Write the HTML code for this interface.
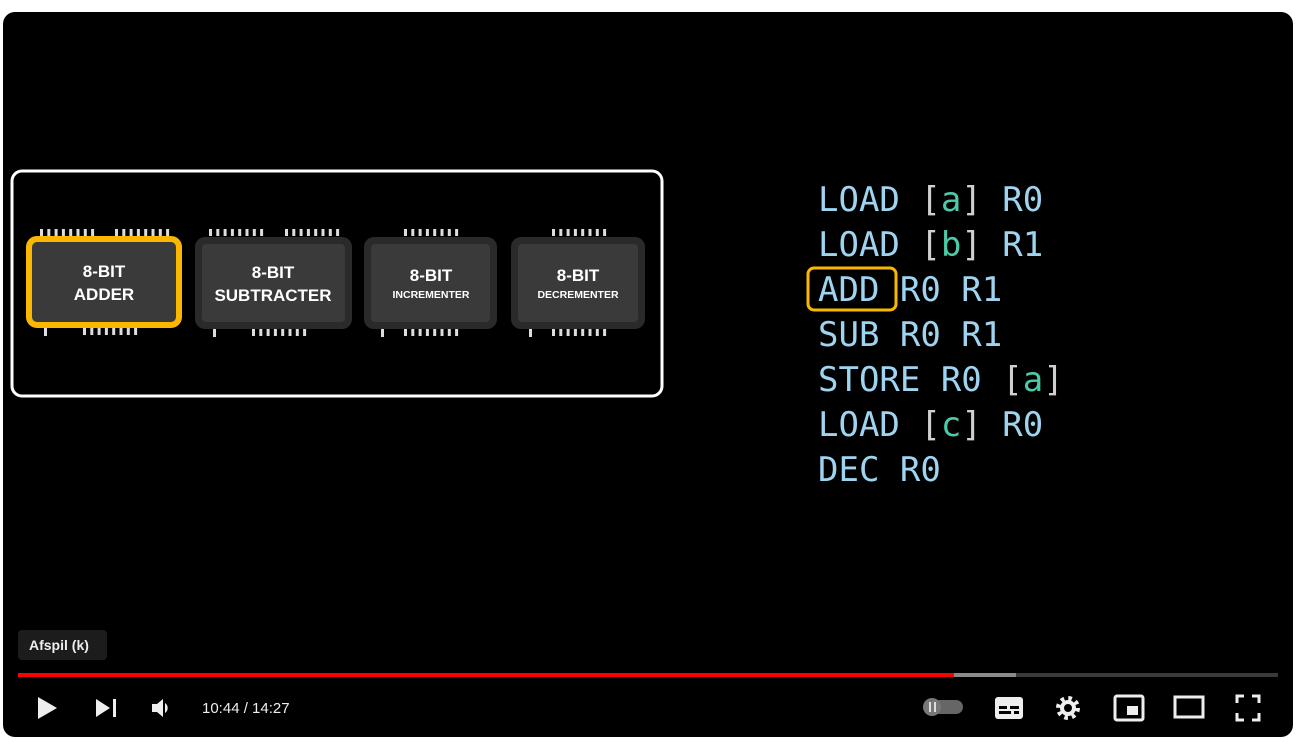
<!DOCTYPE html>
<html><head><style>
body{margin:0;width:1300px;height:744px;background:#fff;overflow:hidden;font-family:"Liberation Sans",sans-serif}
.code{position:absolute;left:818px;top:178px;font-family:"DejaVu Sans Mono","Liberation Mono",monospace;font-size:34px;line-height:45px;color:#9fd4f0;white-space:pre}
.g{color:#4ec9a8}.b{color:#cfcfcf}
</style></head><body>
<svg width="1300" height="744" style="position:absolute;left:0;top:0">
<defs>
<g id="pt" fill="#ddd">
<rect x="0" y="0" width="3" height="7"/><rect x="7.3" y="0" width="3" height="7"/><rect x="14.6" y="0" width="3" height="7"/><rect x="21.9" y="0" width="3" height="7"/><rect x="29.2" y="0" width="3" height="7"/><rect x="36.5" y="0" width="3" height="7"/><rect x="43.8" y="0" width="3" height="7"/><rect x="51.1" y="0" width="3" height="7"/>
</g>
</defs>
<rect x="3" y="12" width="1290" height="725" rx="12" fill="#000"/>
<rect x="12" y="171" width="650" height="225" rx="10" fill="none" stroke="#fff" stroke-width="3"/>
<use href="#pt" x="40" y="229"/><use href="#pt" x="115" y="229"/>
<use href="#pt" x="83" y="328"/><rect x="44" y="328" width="3" height="8" fill="#ddd"/>
<use href="#pt" x="209" y="229"/><use href="#pt" x="285" y="229"/>
<use href="#pt" x="252" y="329"/><rect x="213" y="329" width="3" height="8" fill="#ddd"/>
<use href="#pt" x="404" y="229"/>
<use href="#pt" x="404" y="329"/><rect x="381" y="329" width="3" height="8" fill="#ddd"/>
<use href="#pt" x="552" y="229"/>
<use href="#pt" x="552" y="329"/><rect x="529" y="329" width="3" height="8" fill="#ddd"/>
<rect x="29" y="239" width="150" height="86" rx="8" fill="#3a3a3a" stroke="#fbb700" stroke-width="6"/>
<rect x="195" y="237" width="157" height="92" rx="10" fill="#2a2a2a"/><rect x="202" y="244" width="143" height="78" rx="4" fill="#3a3a3a"/>
<rect x="364" y="237" width="133" height="92" rx="10" fill="#2a2a2a"/><rect x="371" y="244" width="119" height="78" rx="4" fill="#3a3a3a"/>
<rect x="511" y="237" width="134" height="92" rx="10" fill="#2a2a2a"/><rect x="518" y="244" width="120" height="78" rx="4" fill="#3a3a3a"/>
<g fill="#fff" font-weight="bold" text-anchor="middle" font-family="Liberation Sans,sans-serif">
<text x="104" y="277" font-size="17">8-BIT</text><text x="104" y="300" font-size="17">ADDER</text>
<text x="273" y="278" font-size="17">8-BIT</text><text x="273" y="301" font-size="17">SUBTRACTER</text>
<text x="431" y="281" font-size="17">8-BIT</text><text x="431" y="298" font-size="10.5">INCREMENTER</text>
<text x="578" y="281" font-size="17">8-BIT</text><text x="578" y="298" font-size="10.5">DECREMENTER</text>
</g>
<rect x="808" y="268" width="88" height="42" rx="6" fill="none" stroke="#fbb700" stroke-width="3"/>
<rect x="18" y="630" width="89" height="30" rx="4" fill="#1c1c1c"/>
<text x="29" y="650" fill="#eee" font-size="14" font-weight="bold">Afspil (k)</text>
<rect x="18" y="673" width="1260" height="4" fill="#3a3a3a"/>
<rect x="18" y="673" width="998" height="4" fill="#8a8a8a"/>
<rect x="18" y="673" width="936" height="4" fill="#f00"/>
<g fill="#eee">
<path d="M38 697 L57 708 L38 719Z"/>
<path d="M96 699 L110 708 L96 717Z"/><rect x="113" y="699" width="3" height="18"/>
<path d="M152 704 h5 l6 -5 v18 l-6 -5 h-5z"/><path d="M165 703 a6 6 0 0 1 0 10z"/>
</g>
<text x="202" y="713" fill="#eee" font-size="15">10:44 / 14:27</text>
<rect x="924" y="700" width="39" height="14" rx="7" fill="#666"/>
<circle cx="932" cy="707" r="9" fill="#777"/><rect x="929" y="702" width="2" height="10" fill="#ddd"/><rect x="934" y="702" width="2" height="10" fill="#ddd"/>
<rect x="995" y="697" width="28" height="22" rx="3" fill="#eee"/>
<rect x="999" y="706" width="8" height="3" fill="#000"/><rect x="1010" y="706" width="9" height="3" fill="#000"/><rect x="999" y="711" width="12" height="3" fill="#000"/><rect x="1014" y="711" width="5" height="3" fill="#000"/>
<circle cx="1068" cy="708" r="9.5" fill="none" stroke="#eee" stroke-width="5" stroke-dasharray="3.5 3.96"/><circle cx="1068" cy="708" r="6" fill="none" stroke="#eee" stroke-width="4"/>
<rect x="1115" y="696" width="28" height="24" rx="2" fill="none" stroke="#eee" stroke-width="3"/><rect x="1127" y="706" width="11" height="9" fill="#eee"/>
<rect x="1175" y="697" width="28" height="20" fill="none" stroke="#eee" stroke-width="3"/>
<g fill="none" stroke="#eee" stroke-width="3"><path d="M1237 703v-7h7M1252 696h7v7M1259 713v7h-7M1244 720h-7v-7"/></g>
</svg>
<div class="code">LOAD <span class="b">[</span><span class="g">a</span><span class="b">]</span> R0
LOAD <span class="b">[</span><span class="g">b</span><span class="b">]</span> R1
ADD R0 R1
SUB R0 R1
STORE R0 <span class="b">[</span><span class="g">a</span><span class="b">]</span>
LOAD <span class="b">[</span><span class="g">c</span><span class="b">]</span> R0
DEC R0</div>
</body></html>
